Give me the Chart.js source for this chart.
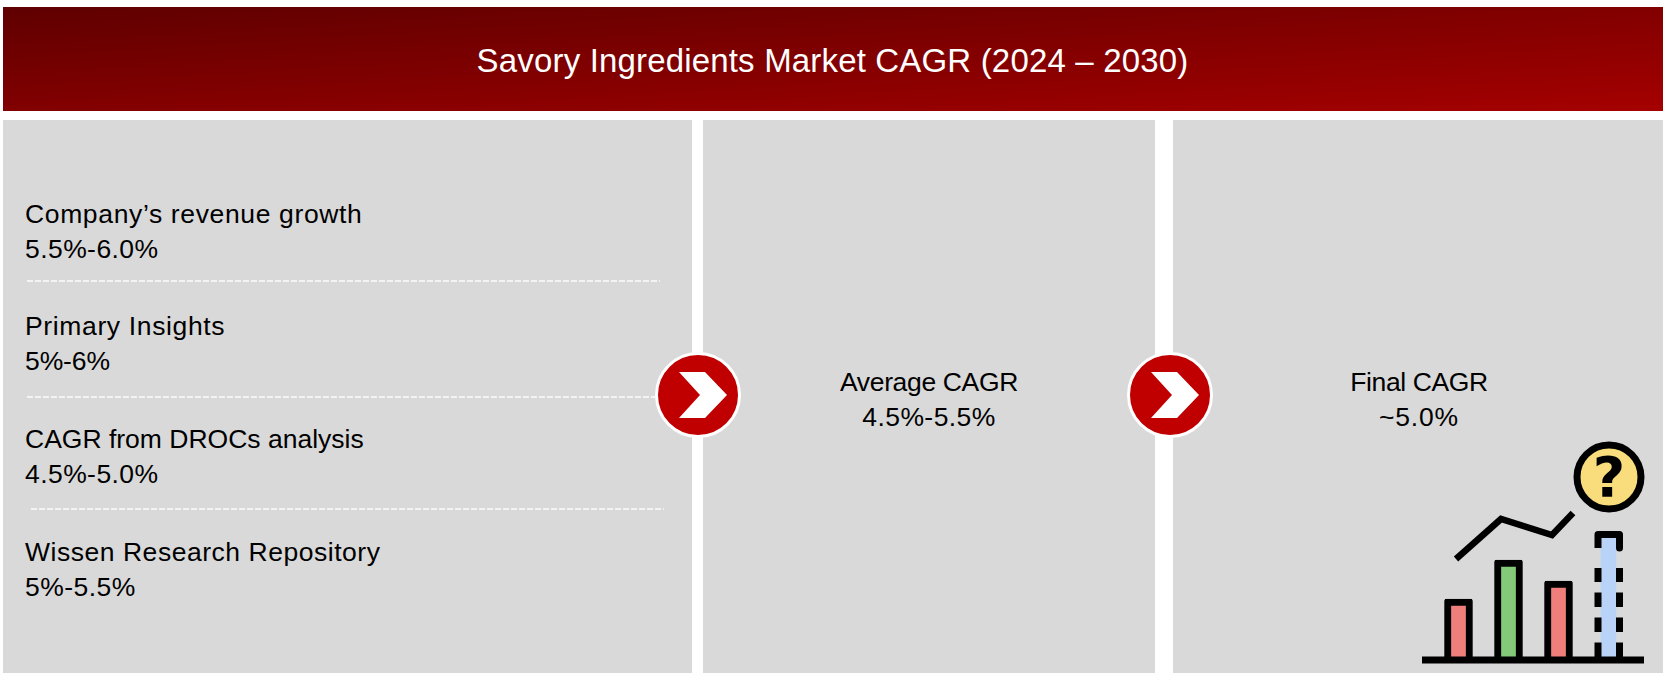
<!DOCTYPE html>
<html>
<head>
<meta charset="utf-8">
<script src="https://cdn.jsdelivr.net/npm/chart.js@4"></script>
<style>
  html, body { margin: 0; padding: 0; background: #fff; width: 1669px; height: 679px; overflow: hidden; }
  body { position: relative; font-family: "Liberation Sans", sans-serif; color: #000; }
  .box { position: absolute; background: #d9d9d9; }
  #header { position: absolute; left: 3px; top: 7px; width: 1660px; height: 104px;
    background: linear-gradient(to bottom right, #5f0000, #a50000); }
  #title { position: absolute; left: -2px; top: 61px; width: 1669px; line-height: 0; text-align: center;
    font-size: 33px; color: #fff; letter-spacing: 0.17px; }
  .txt { position: absolute; font-size: 26.5px; line-height: 0; white-space: nowrap; }
  .mid { text-align: center; width: 400px; margin-left: -200px; }
  .dash { position: absolute; height: 2px; background: repeating-linear-gradient(90deg, #f4f4f4 0 6px, transparent 6px 8px); }
  .arrow { position: absolute; width: 80px; height: 80px; margin: -43px 0 0 -43px; border-radius: 50%;
    background: #c00000; border: 3px solid #fff; }
  .chev { position: absolute; left: -22px; top: -25px; width: 120px; height: 120px; background: #fff;
    clip-path: polygon(43px 42px, 69px 42px, 91px 65px, 69px 88px, 43px 88px, 64px 65px); }
  #icon { position: absolute; left: 1422px; top: 435px; width: 228px; height: 230px; }
  #icon canvas { display: block; }
  #qmark { position: absolute; left: 1559px; top: 477px; width: 100px; text-align: center;
    font: bold 56px "DejaVu Sans", sans-serif; line-height: 0; color: #000; }
</style>
</head>
<body>
<div id="header"></div>
<div id="title">Savory Ingredients Market CAGR (2024 – 2030)</div>

<div class="box" style="left:3px;top:120px;width:689px;height:553px"></div>
<div class="box" style="left:703px;top:120px;width:452px;height:553px"></div>
<div class="box" style="left:1173px;top:120px;width:490px;height:553px"></div>

<div id="texts"></div>

<div id="icon"><canvas id="chart" width="228" height="230"></canvas></div>
<div id="qmark">?</div>

<script>
// left panel
const sources = ['Company’s revenue growth', 'Primary Insights', 'CAGR from DROCs analysis', 'Wissen Research Repository']
const sourceRanges = ['5.5%-6.0%', '5%-6%', '4.5%-5.0%', '5%-5.5%']

// middle and right panels
const stepLabels = ['Average CAGR', 'Final CAGR']
const stepValues = ['4.5%-5.5%', '~5.0%']

// icon chart, x is the bar position, y is the height above the base line
const barPositions = [1, 2, 3]
const barValues = [61, 100, 79]
const barColors = ['#f07f7b', '#83c977', '#f07f7b']
const forecastPosition = [4]
const forecastValue = [126]
const trendX = [0.95, 1.85, 2.87, 3.29]
const trendY = [101, 141, 125, 147]
const questionX = [4.01]
const questionY = [183]

const texts = document.querySelector('#texts')

const addText = (text, x, y, cls, spacing) => {
  const el = document.createElement('div')
  el.className = 'txt ' + (cls || '')
  el.style.left = x + 'px'
  el.style.top = y + 'px'
  el.style.letterSpacing = spacing + 'px'
  el.textContent = text
  texts.appendChild(el)
}

// letter spacing per line, the reference font runs a bit wider than Liberation Sans
const rowY = [214, 326, 439, 552]
const sourceSpacing = [0.64, 0.64, 0, 0.53]
const rangeSpacing = [0.43, -0.1, 0.43, 0.45]
sources.forEach((s, i) => {
  addText(s, 25, rowY[i], '', sourceSpacing[i])
  addText(sourceRanges[i], 25, rowY[i] + 35, '', rangeSpacing[i])
})

const midX = [929, 1419]
const labelSpacing = [-0.35, -0.4]
const valueSpacing = [0.43, 0.8]
stepLabels.forEach((s, i) => {
  addText(s, midX[i], 382, 'mid', labelSpacing[i])
  addText(stepValues[i], midX[i], 417, 'mid', valueSpacing[i])
})

// dashed separators
;[[27, 280, 633], [27, 396, 628], [31, 508, 633]].forEach(d => {
  const el = document.createElement('div')
  el.className = 'dash'
  el.style.left = d[0] + 'px'
  el.style.top = d[1] + 'px'
  el.style.width = d[2] + 'px'
  texts.appendChild(el)
})

// round arrows
;[698, 1170].forEach(x => {
  const el = document.createElement('div')
  el.className = 'arrow'
  el.style.left = x + 'px'
  el.style.top = '395px'
  el.innerHTML = '<div class="chev"></div>'
  texts.appendChild(el)
})

const xy = (xs, ys) => xs.map((x, i) => ({ x: x, y: ys[i] }))

new Chart(document.querySelector('#chart'), {
  type: 'bar',
  data: {
    datasets: [
      {
        data: xy(barPositions, barValues),
        backgroundColor: barColors,
        borderColor: '#000',
        borderWidth: 7,
        borderSkipped: 'bottom',
        borderRadius: 2,
        barThickness: 28,
        grouped: false,
        order: 5
      },
      {
        data: xy(forecastPosition, forecastValue),
        backgroundColor: '#b8d3f7',
        borderWidth: 0,
        barThickness: 15,
        grouped: false,
        order: 5
      },
      // dashed sides of the forecast bar
      {
        type: 'line',
        data: xy([3.79, 3.79], [3, 92]),
        borderColor: '#000',
        borderWidth: 7,
        borderDash: [14.5, 10.5],
        pointRadius: 0,
        clip: false,
        order: 3
      },
      {
        type: 'line',
        data: xy([4.22, 4.22], [3, 92]),
        borderColor: '#000',
        borderWidth: 7,
        borderDash: [14.5, 10.5],
        pointRadius: 0,
        clip: false,
        order: 3
      },
      // top cap of the forecast bar
      {
        type: 'line',
        data: xy([3.79, 3.79, 4.22, 4.22], [112, 125.5, 125.5, 112]),
        borderColor: '#000',
        borderWidth: 7,
        borderJoinStyle: 'round',
        pointRadius: 0,
        clip: false,
        order: 3
      },
      // trend line
      {
        type: 'line',
        data: xy(trendX, trendY),
        borderColor: '#000',
        borderWidth: 6.5,
        borderJoinStyle: 'miter',
        tension: 0,
        pointRadius: 0,
        clip: false,
        order: 2
      },
      // base line
      {
        type: 'line',
        data: xy([0.27, 4.71], [0, 0]),
        borderColor: '#000',
        borderWidth: 7,
        pointRadius: 0,
        clip: false,
        order: 1
      },
      // question mark badge
      {
        type: 'scatter',
        data: xy(questionX, questionY),
        backgroundColor: '#f9dc7c',
        borderColor: '#000',
        borderWidth: 7,
        pointRadius: 32,
        clip: false,
        order: 1
      }
    ]
  },
  options: {
    responsive: false,
    animation: false,
    layout: { padding: 0, autoPadding: false },
    plugins: { legend: { display: false }, tooltip: { enabled: false } },
    scales: {
      x: { type: 'linear', display: false, offset: false, min: 0.27, max: 4.83 },
      y: { display: false, min: -5, max: 225 }
    }
  }
})
</script>
</body>
</html>
